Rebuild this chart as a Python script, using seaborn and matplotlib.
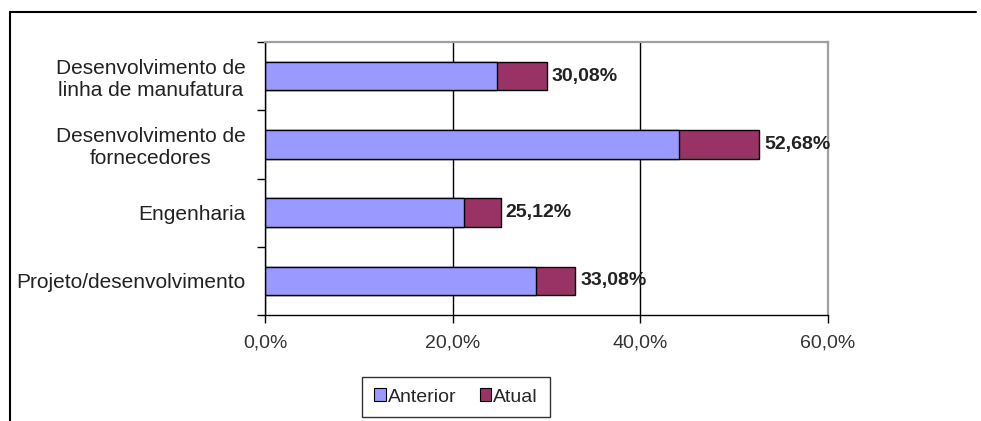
import pandas as pd
import numpy as np
import seaborn as sns
import matplotlib.pyplot as plt
from matplotlib.patches import Patch
from matplotlib.lines import Line2D

# Dados
categorias = ['Desenvolvimento de\nlinha de manufatura',
              'Desenvolvimento de\nfornecedores',
              'Engenharia',
              'Projeto/desenvolvimento']
anterior = [24.7, 44.1, 21.2, 28.9]
total = [30.08, 52.68, 25.12, 33.08]
rotulos = ['30,08%', '52,68%', '25,12%', '33,08%']
xticks = [0, 20, 40, 60]
xtick_labels = ['0,0%', '20,0%', '40,0%', '60,0%']

cor_anterior = '#9999FF'
cor_atual = '#993366'

df = pd.DataFrame({'categoria': categorias, 'anterior': anterior, 'total': total})

sns.set_style('white')
plt.rcParams['font.family'] = ['Liberation Sans', 'DejaVu Sans']

fig = plt.figure(figsize=(9.81, 4.21), dpi=100)
ax = fig.add_axes([265 / 981, 1 - 315 / 421, (828 - 265) / 981, (315 - 42) / 421])

# barra total (Atual) e por cima a parte Anterior
sns.barplot(data=df, y='categoria', x='total', color=cor_atual, orient='h',
            width=0.42, edgecolor='black', linewidth=1, saturation=1, ax=ax)
sns.barplot(data=df, y='categoria', x='anterior', color=cor_anterior, orient='h',
            width=0.42, edgecolor='black', linewidth=1, saturation=1, ax=ax)

for i, (t, r) in enumerate(zip(total, rotulos)):
    ax.text(t + 0.5, i, r, va='center', ha='left', fontsize=14,
            fontweight='bold', color='#222222')

ax.set_xlim(0, 60)
ax.set_ylim(3.5, -0.5)
ax.set_xticks(xticks)
ax.set_xticklabels(xtick_labels, fontsize=14, color='#333333')
ax.set_xlabel('')
ax.set_ylabel('')

ax.set_yticks(range(len(categorias)))
ax.set_yticklabels(categorias, fontsize=15, color='#222222')
for lab in ax.get_yticklabels():
    lab.set_multialignment('center')
ax.set_yticks(np.arange(-0.5, len(categorias), 1), minor=True)
ax.tick_params(axis='y', which='major', length=0, pad=14)
ax.tick_params(axis='y', which='minor', length=6, width=1, color='black', direction='out', left=True)
ax.tick_params(axis='x', which='major', length=6, width=1, color='black', direction='out',
               bottom=True, pad=8)

ax.grid(axis='x', color='black', linewidth=1)
ax.set_axisbelow(True)
for lado in ['left', 'bottom']:
    ax.spines[lado].set_color('black')
    ax.spines[lado].set_linewidth(1)
for lado in ['top', 'right']:
    ax.spines[lado].set_color('#A0A0A0')
    ax.spines[lado].set_linewidth(1.6)

# legenda
handles = [Patch(facecolor=cor_anterior, edgecolor='black', linewidth=0.8, label='Anterior'),
           Patch(facecolor=cor_atual, edgecolor='black', linewidth=0.8, label='Atual')]
leg = fig.legend(handles=handles, loc='center', bbox_to_anchor=(456 / 981, 1 - 397 / 421),
                 ncol=2, fontsize=14, frameon=True, fancybox=False, shadow=False,
                 handlelength=0.6, handleheight=0.6, handletextpad=0.1, columnspacing=1.2,
                 borderpad=0.6)
leg.get_frame().set_edgecolor('black')
leg.get_frame().set_linewidth(1)

# moldura externa da area do grafico
fig.add_artist(Line2D([10 / 981, 976 / 981], [1 - 12 / 421, 1 - 12 / 421],
                      color='black', linewidth=1.5, transform=fig.transFigure))
fig.add_artist(Line2D([10 / 981, 10 / 981], [0, 1 - 12 / 421],
                      color='black', linewidth=1.5, transform=fig.transFigure))

plt.savefig('out.png', dpi=100)
plt.close()
